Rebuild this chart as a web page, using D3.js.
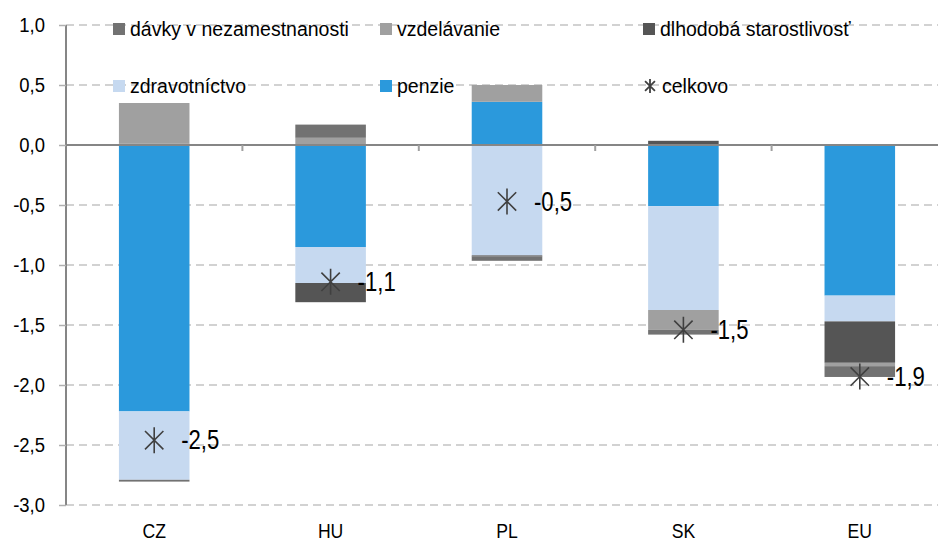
<!DOCTYPE html>
<html>
<head>
<meta charset="utf-8">
<script src="https://cdn.jsdelivr.net/npm/d3@7"></script>
<style>
  body { margin: 0; background: #fff; }
  svg { display: block; }
  text { font-family: Arial, "Liberation Sans", sans-serif; fill: #000; }
</style>
</head>
<body>
<svg id="chart" width="938" height="542"></svg>
<script>
// ---- data ----
const categories = ["CZ", "HU", "PL", "SK", "EU"];
const seriesNames = ["penzie", "zdravotníctvo", "dlhodobá starostlivosť", "vzdelávanie", "dávky v nezamestnanosti"];
const penzie        = [-2.22, -0.85,  0.36, -0.51, -1.255];
const zdravotnictvo = [-0.57, -0.30, -0.92, -0.865, -0.215];
const dlhodoba      = [ 0.01, -0.16, -0.01,  0.035, -0.345];
const vzdelavanie   = [ 0.34,  0.06,  0.14, -0.165, -0.028];
const davky         = [-0.015, 0.11, -0.035, -0.04, -0.09];
const celkovo       = [-2.46, -1.14, -0.47, -1.54, -1.93];
const yTicks = [1.0, 0.5, 0.0, -0.5, -1.0, -1.5, -2.0, -2.5, -3.0];
const legendRow1 = ["dávky v nezamestnanosti", "vzdelávanie", "dlhodobá starostlivosť"];
const legendRow2 = ["zdravotníctvo", "penzie", "celkovo"];

const colors = {
  "penzie": "#2b99dc",
  "zdravotníctvo": "#c6d9f0",
  "dlhodobá starostlivosť": "#555555",
  "vzdelávanie": "#a0a0a0",
  "dávky v nezamestnanosti": "#727272"
};

const seriesValues = [penzie, zdravotnictvo, dlhodoba, vzdelavanie, davky];
const table = categories.map((c, i) => {
  const row = { cat: c };
  seriesNames.forEach((s, j) => row[s] = seriesValues[j][i]);
  return row;
});

const svg = d3.select("#chart");
const pLeft = 66, pRight = 948, pTop = 25, pBottom = 505;

const x = d3.scaleBand().domain(categories).range([pLeft, pRight]).paddingInner(0.6).paddingOuter(0.3);
const y = d3.scaleLinear().domain([-3, 1]).range([pBottom, pTop]);

// gridlines
svg.append("g").selectAll("line").data(yTicks.filter(t => t !== 0)).join("line")
  .attr("x1", pLeft).attr("x2", 938)
  .attr("y1", d => y(d)).attr("y2", d => y(d))
  .attr("stroke", "#c4c4c4").attr("stroke-width", 1.5)
  .attr("stroke-dasharray", "8,5");

// y axis
const fmt = d => d3.format(".1f")(d).replace(".", ",").replace("−", "-");
const tickSX = 0.88;
const yAxis = d3.axisLeft(y).tickValues(yTicks).tickSize(7).tickPadding(14).tickFormat(fmt);
const gy = svg.append("g").attr("transform", `translate(${pLeft},0)`).call(yAxis);
gy.select(".domain").attr("stroke", "#868686").attr("stroke-width", 2).attr("d", `M0,${pTop}V${pBottom}`);
gy.selectAll(".tick line").attr("stroke", "#b0b0b0").attr("stroke-width", 1.5);
gy.selectAll(".tick text")
  .style("font-size", "21px").style("font-family", "Arial, 'Liberation Sans', sans-serif").attr("fill", "#000")
  .attr("x", -21 / tickSX).attr("transform", `scale(${tickSX},1)`);

// stacked bars
const stack = d3.stack().keys(seriesNames).offset(d3.stackOffsetDiverging);
const stacked = stack(table);
svg.append("g").selectAll("g").data(stacked).join("g")
  .attr("fill", d => colors[d.key])
  .selectAll("rect").data(d => d).join("rect")
  .attr("x", d => x(d.data.cat))
  .attr("width", x.bandwidth())
  .attr("y", d => y(Math.max(d[0], d[1])))
  .attr("height", d => Math.abs(y(d[0]) - y(d[1])));

// zero line + category ticks
svg.append("line").attr("x1", pLeft).attr("x2", 938).attr("y1", y(0)).attr("y2", y(0))
  .attr("stroke", "#868686").attr("stroke-width", 2);
svg.append("g").selectAll("line").data(categories.slice(1)).join("line")
  .attr("x1", c => x(c) - (x.step() - x.bandwidth()) / 2)
  .attr("x2", c => x(c) - (x.step() - x.bandwidth()) / 2)
  .attr("y1", y(0)).attr("y2", y(0) + 6)
  .attr("stroke", "#a0a0a0").attr("stroke-width", 2);

// category labels
svg.append("g").selectAll("text").data(categories).join("text")
  .attr("transform", c => `translate(${x(c) + x.bandwidth() / 2},531) scale(${tickSX},1)`)
  .attr("text-anchor", "middle").attr("dominant-baseline", "central")
  .style("font-size", "20px")
  .text(c => c);

// asterisk marker
function asterisk(g, cx, cy, r, sw) {
  const a = r * Math.cos(Math.PI / 4);
  const p = `M${cx},${cy - r}V${cy + r}M${cx - a},${cy - a}L${cx + a},${cy + a}M${cx - a},${cy + a}L${cx + a},${cy - a}`;
  g.append("path").attr("d", p).attr("stroke", "#404040").attr("stroke-width", sw).attr("fill", "none");
}
const tg = svg.append("g");
categories.forEach((c, i) => {
  const cx = x(c) + x.bandwidth() / 2, cy = y(celkovo[i]);
  asterisk(tg, cx, cy, 13, 1.6);
  tg.append("text").attr("transform", `translate(${cx + 27},${cy}) scale(0.82,1)`)
    .attr("dominant-baseline", "central")
    .style("font-size", "27px")
    .text(fmt(celkovo[i]));
});

// legend
const legX = [113, 380, 643];
const lg = svg.append("g");
[legendRow1, legendRow2].forEach((row, r) => {
  const cy = r === 0 ? 29 : 86;
  row.forEach((name, k) => {
    if (name === "celkovo") {
      asterisk(lg, legX[k] + 7, cy, 7, 1.8);
    } else {
      lg.append("rect").attr("x", legX[k]).attr("y", cy - 6).attr("width", 12).attr("height", 12)
        .attr("fill", colors[name]);
    }
    lg.append("text").attr("x", legX[k] + (name === "celkovo" ? 19 : 17)).attr("y", cy)
      .attr("dominant-baseline", "central")
      .style("font-size", "19.5px")
      .text(name);
  });
});
</script>
</body>
</html>
